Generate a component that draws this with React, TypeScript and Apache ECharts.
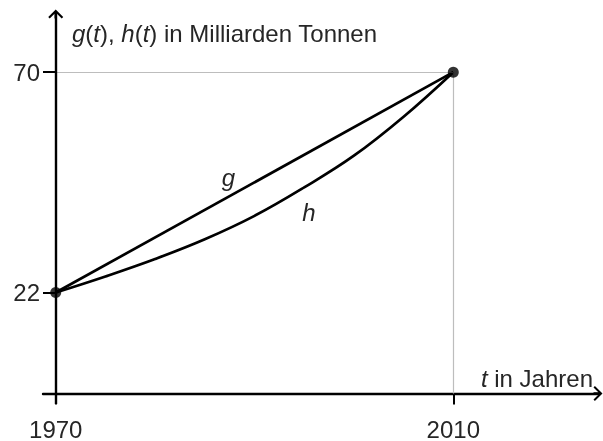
import React, { useEffect, useRef } from "react";
import * as echarts from "echarts";

// data
const hYears = [1970, 1975, 1980, 1985, 1990, 1995, 2000, 2005, 2010];
const hValues = [22, 25.5, 29.3, 33.6, 38.7, 44.9, 51.8, 60.3, 70];
const gYears = [1970, 2010];
const gValues = [22, 70];
const xTickValues = [1970, 2010];
const yTickValues = [22, 70];

// axis extents (include the part of the axes beyond the data)
const X_MIN = 1968.72;
const X_MAX = 2024.56;
const Y_MIN = -2.29;
const Y_MAX = 82.67;

const FONT = "Liberation Sans, Arial, sans-serif";
const FS = 24;
const TXT = "#262626";
const ARROW = "path://M7.5,0 L15,7.6 L13.5,9 L8.7,4.2 L8.7,9 L6.3,9 L6.3,4.2 L1.5,9 L0,7.6 Z";

export default function App() {
  const ref = useRef<HTMLDivElement>(null);
  useEffect(() => {
    const chart = echarts.init(ref.current!, null, { renderer: "svg" });
    const gData = gYears.map((y, i) => [y, gValues[i]]);
    const hData = hYears.map((y, i) => [y, hValues[i]]);
    const ends = [
      [gYears[0], gValues[0]],
      [gYears[gYears.length - 1], gValues[gValues.length - 1]],
    ];
    const italic = { fontStyle: "italic", fontSize: FS, fontFamily: FONT, color: TXT } as any;
    chart.setOption({
      animation: false,
      grid: { left: 43, right: 5, top: 14, bottom: 31, containLabel: false },
      xAxis: {
        type: "value",
        min: X_MIN,
        max: X_MAX,
        splitLine: { show: false },
        axisLine: {
          show: true,
          onZero: true,
          symbol: ["none", ARROW],
          symbolSize: [15, 9],
          lineStyle: { color: "#000", width: 2.4 },
        },
        axisTick: {
          show: true,
          customValues: xTickValues,
          length: 11,
          lineStyle: { color: "#000", width: 2 },
        },
        axisLabel: {
          show: true,
          customValues: xTickValues,
          margin: 13,
          fontSize: FS,
          fontFamily: FONT,
          color: TXT,
          formatter: (v: number) => String(v),
        },
      },
      yAxis: {
        type: "value",
        min: Y_MIN,
        max: Y_MAX,
        splitLine: { show: false },
        axisLine: { show: false },
        axisTick: {
          show: true,
          inside: true,
          customValues: yTickValues,
          length: 12.5,
          lineStyle: { color: "#000", width: 2 },
        },
        axisLabel: {
          show: true,
          customValues: yTickValues,
          margin: 3,
          fontSize: FS,
          fontFamily: FONT,
          color: TXT,
          formatter: (v: number) => String(v),
        },
      },
      series: [
        {
          type: "line",
          data: [],
          silent: true,
          markLine: {
            silent: true,
            symbol: ["none", "none"],
            label: { show: false },
            lineStyle: { color: "#bdbdbd", width: 1.2, type: "solid" },
            data: [
              [{ coord: [xTickValues[0], yTickValues[1]] }, { coord: [xTickValues[1], yTickValues[1]] }],
              [{ coord: [xTickValues[1], 0] }, { coord: [xTickValues[1], yTickValues[1]] }],
            ],
          },
          z: 1,
        },
        {
          type: "line",
          data: [],
          silent: true,
          markLine: {
            silent: true,
            symbol: ["none", ARROW],
            symbolSize: [15, 9],
            label: { show: false },
            lineStyle: { color: "#000", width: 2.4, type: "solid" },
            data: [[{ coord: [xTickValues[0], Y_MIN] }, { coord: [xTickValues[0], Y_MAX] }]],
          },
          z: 3,
        },
        {
          name: "g",
          type: "line",
          data: gData,
          showSymbol: false,
          lineStyle: { color: "#000", width: 2.7 },
          z: 4,
        },
        {
          name: "h",
          type: "line",
          data: hData,
          smooth: 0.4,
          showSymbol: false,
          lineStyle: { color: "#000", width: 2.7 },
          z: 4,
        },
        {
          type: "scatter",
          data: ends,
          symbolSize: 11,
          itemStyle: { color: "#000" },
          z: 5,
        },
      ],
      graphic: [
        {
          type: "text",
          x: 72,
          y: 33.5,
          style: {
            text: "{i|g}({i|t}), {i|h}({i|t}) in Milliarden Tonnen",
            font: `${FS}px ${FONT}`,
            fill: TXT,
            verticalAlign: "middle",
            align: "left",
            rich: { i: italic },
          },
        },
        {
          type: "text",
          x: 593,
          y: 378.5,
          style: {
            text: "{i|t} in Jahren",
            font: `${FS}px ${FONT}`,
            fill: TXT,
            verticalAlign: "middle",
            align: "right",
            rich: { i: italic },
          },
        },
        {
          type: "text",
          x: 228.5,
          y: 177,
          style: {
            text: "g",
            font: `italic ${FS}px ${FONT}`,
            fill: TXT,
            verticalAlign: "middle",
            align: "center",
          },
        },
        {
          type: "text",
          x: 309,
          y: 212,
          style: {
            text: "h",
            font: `italic ${FS}px ${FONT}`,
            fill: TXT,
            verticalAlign: "middle",
            align: "center",
          },
        },
      ],
    });
    return () => chart.dispose();
  }, []);
  return (
    <div
      ref={ref}
      style={{ position: "fixed", left: 0, top: 0, width: 603, height: 441 }}
    />
  );
}
